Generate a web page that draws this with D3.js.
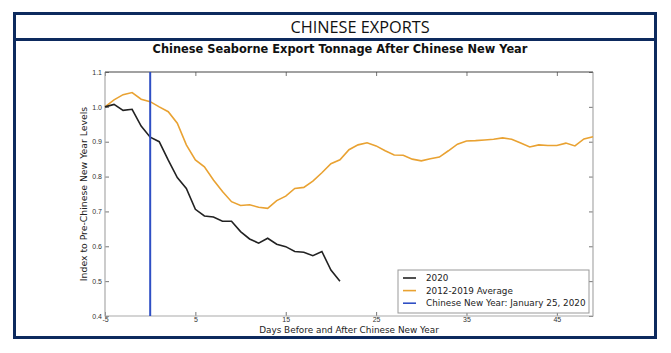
<!DOCTYPE html>
<html>
<head>
<meta charset="utf-8">
<script src="https://cdn.jsdelivr.net/npm/d3@7"></script>
<style>
  body { margin: 0; background: #fff; }
  svg { display: block; font-family: "DejaVu Sans", sans-serif; }
</style>
</head>
<body>
<div id="chart"></div>
<script>
// Data
const days2020 = [-5, -4, -3, -2, -1, 0, 1, 2, 3, 4, 5, 6, 7, 8, 9, 10, 11, 12, 13, 14, 15, 16, 17, 18, 19, 20, 21];
const values2020 = [1.0, 1.007, 0.99, 0.993, 0.945, 0.913, 0.90, 0.847, 0.797, 0.766, 0.706, 0.687, 0.684, 0.672, 0.672,
  0.642, 0.621, 0.609, 0.623, 0.606, 0.599, 0.585, 0.583, 0.573, 0.585, 0.532, 0.50];

const daysAvg = d3.range(-5, 50);
const valuesAvg = [1.0, 1.02, 1.035, 1.041, 1.022, 1.015, 1.0, 0.986, 0.953, 0.891, 0.848, 0.828, 0.79, 0.757, 0.728,
  0.717, 0.719, 0.712, 0.709, 0.731, 0.744, 0.766, 0.769, 0.787, 0.811, 0.837, 0.848, 0.877, 0.891, 0.897,
  0.888, 0.874, 0.862, 0.861, 0.85, 0.845, 0.851, 0.856, 0.874, 0.893, 0.902, 0.903, 0.905, 0.907, 0.911,
  0.907, 0.896, 0.885, 0.891, 0.889, 0.889, 0.896, 0.888, 0.908, 0.914];

const newYearDay = 0;
const xTicks = [-5, 5, 15, 25, 35, 45];
const yTicks = [0.4, 0.5, 0.6, 0.7, 0.8, 0.9, 1.0, 1.1];
const legendLabels = ["2020", "2012-2019 Average", "Chinese New Year: January 25, 2020"];
const colors = ["#222222", "#e9a232", "#2f4fc4"];

const width = 671, height = 353;
const plot = { left: 105, right: 593, top: 72, bottom: 316 };

const svg = d3.select("#chart").append("svg")
  .attr("width", width)
  .attr("height", height);

// Frame and header
svg.append("rect")
  .attr("x", 14.5).attr("y", 13.5)
  .attr("width", 641).attr("height", 324)
  .attr("fill", "#fff")
  .attr("stroke", "#0d2a5e")
  .attr("stroke-width", 3);

svg.append("line")
  .attr("x1", 14).attr("x2", 656)
  .attr("y1", 39.5).attr("y2", 39.5)
  .attr("stroke", "#0d2a5e")
  .attr("stroke-width", 3);

svg.append("text")
  .attr("x", 360).attr("y", 32.5)
  .attr("text-anchor", "middle")
  .style("font-family", "'Open Sans', sans-serif")
  .style("font-size", "16.3px")
  .attr("fill", "#111")
  .text("CHINESE EXPORTS");

svg.append("text")
  .attr("x", 340).attr("y", 53)
  .attr("text-anchor", "middle")
  .style("font-size", "11.4px")
  .style("font-weight", "bold")
  .attr("fill", "#111")
  .text("Chinese Seaborne Export Tonnage After Chinese New Year");

// Scales
const x = d3.scaleLinear().domain([-5, 49]).range([plot.left, plot.right]);
const y = d3.scaleLinear().domain([0.4, 1.1]).range([plot.bottom, plot.top]);

// Axes (ticks pointing inward)
const tickStyle = g => {
  g.select(".domain").remove();
  g.selectAll(".tick line").attr("stroke", "#777");
  g.selectAll(".tick text").attr("fill", "#333").style("font-size", "7px");
};

svg.append("g")
  .attr("transform", `translate(0,${plot.bottom})`)
  .call(d3.axisBottom(x).tickValues(xTicks).tickFormat(d => String(d)).tickSize(-4).tickPadding(1))
  .call(tickStyle);

svg.append("g")
  .attr("transform", `translate(0,${plot.top})`)
  .call(d3.axisTop(x).tickValues(xTicks).tickSize(-4).tickFormat(""))
  .call(tickStyle);

svg.append("g")
  .attr("transform", `translate(${plot.left},0)`)
  .call(d3.axisLeft(y).tickValues(yTicks).tickFormat(d3.format(".1f")).tickSize(-4).tickPadding(3))
  .call(tickStyle);

svg.append("g")
  .attr("transform", `translate(${plot.right},0)`)
  .call(d3.axisRight(y).tickValues(yTicks).tickSize(-4).tickFormat(""))
  .call(tickStyle);

// Plot border
svg.append("path")
  .attr("d", `M${plot.left},${plot.top}V${plot.bottom}H${plot.right}V${plot.top}`)
  .attr("fill", "none")
  .attr("stroke", "#aaa")
  .attr("stroke-width", 1.2);
svg.append("line")
  .attr("x1", plot.left).attr("x2", plot.right)
  .attr("y1", plot.top).attr("y2", plot.top)
  .attr("stroke", "#444")
  .attr("stroke-width", 1.2);

// Lines
const line = d3.line().x(d => x(d[0])).y(d => y(d[1]));

svg.append("path")
  .datum(daysAvg.map((d, i) => [d, valuesAvg[i]]))
  .attr("d", line)
  .attr("fill", "none")
  .attr("stroke", colors[1])
  .attr("stroke-width", 1.6);

svg.append("path")
  .datum(days2020.map((d, i) => [d, values2020[i]]))
  .attr("d", line)
  .attr("fill", "none")
  .attr("stroke", colors[0])
  .attr("stroke-width", 1.6);

svg.append("line")
  .attr("x1", x(newYearDay)).attr("x2", x(newYearDay))
  .attr("y1", plot.top).attr("y2", plot.bottom)
  .attr("stroke", colors[2])
  .attr("stroke-width", 2);

// Axis labels
svg.append("text")
  .attr("x", 349).attr("y", 333)
  .attr("text-anchor", "middle")
  .style("font-size", "8.9px")
  .attr("fill", "#222")
  .text("Days Before and After Chinese New Year");

svg.append("text")
  .attr("transform", `translate(87,${(plot.top + plot.bottom) / 2}) rotate(-90)`)
  .attr("text-anchor", "middle")
  .style("font-size", "9.3px")
  .attr("fill", "#222")
  .text("Index to Pre-Chinese New Year Levels");

// Legend
const legend = svg.append("g").attr("transform", "translate(398,270)");
legend.append("rect")
  .attr("width", 191).attr("height", 43)
  .attr("fill", "#fff")
  .attr("stroke", "#999");
legendLabels.forEach((label, i) => {
  const ly = 8 + i * 12.6;
  legend.append("line")
    .attr("x1", 5).attr("x2", 18)
    .attr("y1", ly).attr("y2", ly)
    .attr("stroke", colors[i])
    .attr("stroke-width", 1.6);
  legend.append("text")
    .attr("x", 28).attr("y", ly + 3)
    .style("font-size", "8.8px")
    .attr("fill", "#222")
    .text(label);
});
</script>
</body>
</html>
